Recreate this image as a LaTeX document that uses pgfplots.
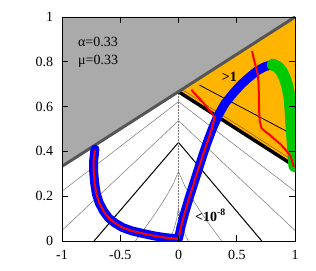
\documentclass[border=0pt]{standalone}
\usepackage{fontspec}
\setmainfont{Liberation Serif}
\usepackage{pgfplots}
\pgfplotsset{compat=1.18}
\definecolor{gfill}{HTML}{AAAAAA}
\definecolor{gedge}{HTML}{555555}
\definecolor{orng}{HTML}{FFB400}
\definecolor{grn}{HTML}{00C800}
\definecolor{brn}{HTML}{9A6400}
\definecolor{cgray}{HTML}{777777}
\begin{document}
\fontsize{14bp}{16bp}\selectfont
\begin{tikzpicture}
\useasboundingbox (-62bp,-30bp) rectangle (254bp,241bp);
\begin{axis}[
  at={(0,0)}, anchor=south west,
  scale only axis, width=233bp, height=224bp,
  xmin=-1, xmax=1, ymin=0, ymax=1,
  xtick={-1,-0.5,0,0.5,1}, xticklabels={-1,-0.5,0,0.5,1},
  ytick={0,0.2,0.4,0.6,0.8,1}, yticklabels={0,0.2,0.4,0.6,0.8,1},
  tick align=inside, major tick length=6bp,
  tick style={black, line width=0.8pt},
  axis line style={line width=0.8pt},
  axis on top,
  ticklabel style={font=\fontsize{14bp}{16bp}\selectfont},
  yticklabel style={xshift=-4bp},
  xticklabel style={yshift=-4bp},
]
% regions
\addplot[fill=gfill, draw=none] coordinates {(-1,0.3333) (1,1) (-1,1)} -- cycle;
\addplot[fill=orng, draw=none] coordinates {(0,0.6667) (1,1) (1,0.3333)} -- cycle;
% contour lines in white region
\addplot[cgray, line width=0.5pt] coordinates {(-1,0.222) (0,0.622) (1,0.222)};
\addplot[cgray, line width=0.5pt] coordinates {(-1,0.047) (0,0.537) (1,0.047)};
\addplot[black, line width=1pt] coordinates {(-0.725,0) (0,0.44) (0.715,0)};
\addplot[cgray, line width=0.5pt] coordinates {(-0.37,0) (-0.3,0.05) (-0.25,0.085) (-0.2,0.123) (-0.15,0.162) (-0.1,0.204) (-0.05,0.25) (0,0.31) (0.05,0.25) (0.1,0.204) (0.15,0.162) (0.2,0.123) (0.25,0.085) (0.3,0.05) (0.37,0)};
\addplot[cgray, line width=0.5pt] coordinates {(-0.085,0) (-0.06,0.025) (-0.035,0.06) (-0.015,0.1) (0,0.146) (0.015,0.1) (0.035,0.06) (0.06,0.025) (0.085,0)};
\addplot[cgray, densely dotted, line width=0.5pt] coordinates {(0,0) (0,0.6667)};
% contour lines in orange region
\addplot[brn, line width=0.6pt] coordinates {(0.03,0.677) (1,0.354)};
\addplot[black, line width=0.8pt] coordinates {(0.18,0.696) (1,0.47)};
% boundaries
\addplot[black, line width=3.5pt] coordinates {(0,0.6667) (1,0.3333)};
\addplot[gedge, line width=3pt] coordinates {(-1.05,0.3167) (1.05,1.0167)};
% blue path
\addplot[blue, line width=9pt, line cap=round, line join=round] coordinates {
(-0.717,0.41) (-0.728,0.36) (-0.728,0.31) (-0.72,0.26) (-0.705,0.21) (-0.68,0.17) (-0.645,0.135) (-0.6,0.103) (-0.545,0.08) (-0.48,0.06) (-0.4,0.045) (-0.3,0.033) (-0.2,0.022) (-0.1,0.014) (0,0.01)
(0.02,0.06) (0.05,0.12) (0.09,0.19) (0.13,0.255) (0.17,0.32) (0.21,0.385) (0.25,0.445) (0.29,0.5) (0.34,0.56) (0.4,0.615) (0.47,0.66) (0.54,0.7) (0.6,0.728) (0.67,0.758) (0.74,0.778) (0.8,0.787)};
% green path
\addplot[grn, line width=12pt, line cap=round, line join=round] coordinates {
(0.81,0.787) (0.85,0.778) (0.885,0.757) (0.91,0.73) (0.935,0.69) (0.952,0.644) (0.962,0.585) (0.968,0.525) (0.976,0.47) (0.983,0.42) (0.99,0.37) (0.995,0.335)};
% red paths
\addplot[red, line width=2pt, line join=round] coordinates {
(0.631,0.848) (0.648,0.81) (0.665,0.775) (0.68,0.745) (0.688,0.7) (0.69,0.64) (0.692,0.58) (0.697,0.535) (0.712,0.505) (0.74,0.49) (0.78,0.475) (0.83,0.452) (0.88,0.43) (0.93,0.4) (0.96,0.38) (0.98,0.35) (0.99,0.33)};
\addplot[red, line width=2pt, line join=round] coordinates {
(-0.717,0.405) (-0.728,0.36) (-0.728,0.31) (-0.72,0.26) (-0.705,0.21) (-0.68,0.17) (-0.645,0.135) (-0.6,0.103) (-0.545,0.08) (-0.48,0.06) (-0.4,0.045) (-0.3,0.033) (-0.2,0.022) (-0.1,0.014) (0,0.01)
(0.02,0.06) (0.05,0.12) (0.09,0.19) (0.13,0.255) (0.17,0.32) (0.21,0.385) (0.25,0.445) (0.285,0.5) (0.31,0.553) (0.26,0.587) (0.2,0.625) (0.15,0.652) (0.11,0.675)};
% labels
\node[anchor=base west, inner sep=0pt] at (axis cs:-0.863,0.867) {α=0.33};
\node[anchor=base west, inner sep=0pt] at (axis cs:-0.863,0.786) {μ=0.33};
\node[anchor=base west, inner sep=0pt] at (axis cs:0.371,0.711) {\textbf{>1}};
\node[anchor=base west, inner sep=0pt] at (axis cs:0.142,0.089) {\textbf{<10\textsuperscript{-8}}};
\end{axis}
\end{tikzpicture}
\end{document}
